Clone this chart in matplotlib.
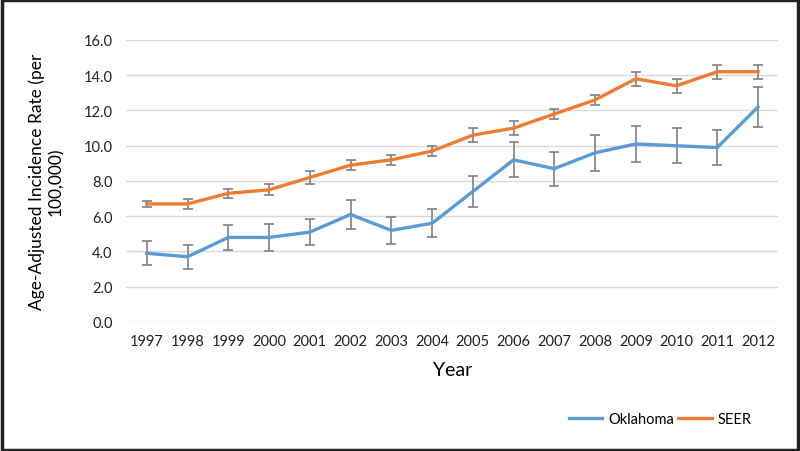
import matplotlib.pyplot as plt
from matplotlib.patches import Rectangle
from matplotlib.lines import Line2D
import numpy as np

years = ['1997', '1998', '1999', '2000', '2001', '2002', '2003', '2004',
         '2005', '2006', '2007', '2008', '2009', '2010', '2011', '2012']
oklahoma = [3.9, 3.7, 4.8, 4.8, 5.1, 6.1, 5.2, 5.6, 7.4, 9.2, 8.7, 9.6, 10.1, 10.0, 9.9, 12.2]
oklahoma_err = [0.67, 0.67, 0.73, 0.75, 0.75, 0.83, 0.75, 0.8, 0.9, 1.0, 0.97, 1.02, 1.02, 1.0, 1.0, 1.13]
seer = [6.7, 6.7, 7.3, 7.5, 8.2, 8.9, 9.2, 9.7, 10.6, 11.0, 11.8, 12.6, 13.8, 13.4, 14.2, 14.2]
seer_err = [0.17, 0.27, 0.27, 0.32, 0.35, 0.3, 0.3, 0.28, 0.4, 0.38, 0.31, 0.3, 0.4, 0.38, 0.4, 0.4]

plt.rcParams['font.family'] = ['Lato', 'DejaVu Sans']

fig = plt.figure(figsize=(8, 4.52), dpi=100)
ax = fig.add_axes([0.158, 0.2854, 0.815, 0.6239])

x = np.arange(len(years))
err_kw = dict(ecolor='#808080', elinewidth=1.2, capsize=3.5, capthick=1.2)
ax.errorbar(x, oklahoma, yerr=oklahoma_err, color='#5B9BD5', lw=2.4, zorder=3, **err_kw)
ax.errorbar(x, seer, yerr=seer_err, color='#ED7D31', lw=2.4, zorder=3, **err_kw)

ax.set_xlim(-0.5, len(years) - 0.5)
ax.set_ylim(0, 16)
ax.set_yticks(np.arange(0, 17, 2))
ax.set_yticklabels(['%.1f' % v for v in np.arange(0, 17, 2)])
ax.set_xticks(x)
ax.set_xticklabels(years)
ax.grid(axis='y', color='#d9d9d9', lw=1)
ax.set_axisbelow(True)
for s in ax.spines.values():
    s.set_visible(False)
ax.tick_params(length=0, labelsize=10.5, colors='#222222', pad=9)
ax.tick_params(axis='y', pad=10)

ax.set_xlabel('Year', fontsize=14, labelpad=9)
ax.set_ylabel('Age-Adjusted Incidence Rate (per\n100,000)', fontsize=12.5, labelpad=14, linespacing=1.2)

h = [Line2D([], [], color='#5B9BD5', lw=2.4), Line2D([], [], color='#ED7D31', lw=2.4)]
fig.legend(h, ['Oklahoma', 'SEER'], loc='center right', bbox_to_anchor=(0.956, 0.07), ncol=2,
           frameon=False, fontsize=10.5, handlelength=2.3, handletextpad=0.4, columnspacing=0.3)

fig.patches.append(Rectangle((0.002, 0.003), 0.995, 0.994, transform=fig.transFigure,
                             fill=False, edgecolor='#222222', lw=2.5))

fig.savefig('out.png', dpi=100)
